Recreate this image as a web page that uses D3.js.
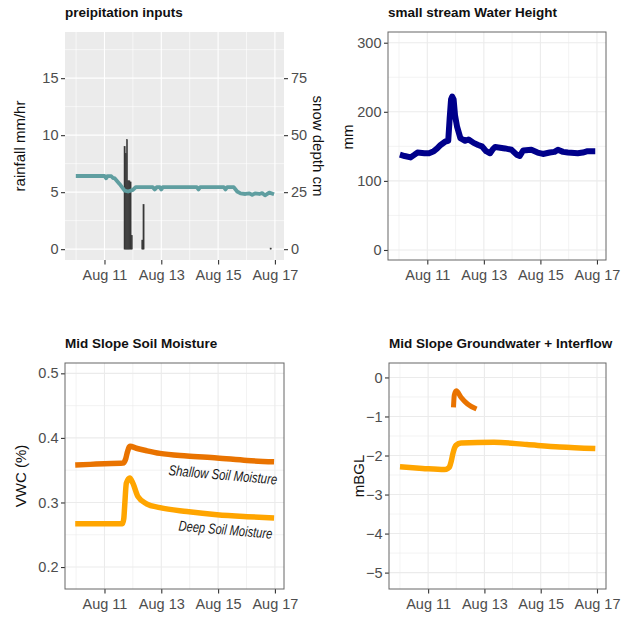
<!DOCTYPE html>
<html>
<head>
<meta charset="utf-8">
<script src="https://cdn.jsdelivr.net/npm/d3@7"></script>
<style>
  body { margin: 0; background: #fff; }
  svg { display: block; font-family: "Liberation Sans", Arial, sans-serif; }
</style>
</head>
<body>
<script>
// all series are [day of August (fractional), value]
var rainfall = [
  [11.708, 9.0], [11.750, 8.4], [11.792, 9.6], [11.833, 6.0], [11.875, 6.0],
  [11.917, 5.9], [11.958, 1.2], [12.333, 0.8], [12.375, 3.9], [16.85, 0.1]
]

var snowDepth = [
  [9.99, 32.1], [11.0, 32.1], [11.06, 31.1], [11.1, 32.0], [11.24, 32.0], [11.3, 31.2],
  [11.35, 31.2], [11.53, 28.6], [11.71, 25.7], [11.83, 25.3], [12.0, 26.0], [12.1, 27.2],
  [12.7, 27.2], [12.77, 26.2], [12.84, 27.2], [12.95, 27.2], [13.0, 26.2], [13.05, 27.2],
  [14.25, 27.2], [14.31, 26.2], [14.37, 27.2], [15.2, 27.2], [15.26, 26.2], [15.32, 27.2],
  [15.55, 27.2], [15.67, 25.3], [15.79, 24.5], [15.96, 24.2], [16.1, 24.5], [16.2, 23.8],
  [16.3, 24.5], [16.45, 24.2], [16.55, 24.6], [16.65, 23.6], [16.8, 24.8], [16.97, 24.1]
]

var streamHeight = [
  [10.03, 138], [10.2, 136], [10.41, 134], [10.55, 138], [10.65, 141], [10.9, 140],
  [11.06, 140], [11.23, 143], [11.35, 147], [11.47, 152], [11.64, 157], [11.74, 158],
  [11.79, 190], [11.84, 218], [11.88, 222], [11.93, 218], [11.98, 195], [12.05, 179],
  [12.17, 162], [12.34, 158], [12.46, 160], [12.64, 155], [12.8, 152], [12.93, 150],
  [13.08, 143], [13.22, 140], [13.32, 146], [13.4, 149], [13.75, 147], [13.98, 145],
  [14.16, 138], [14.27, 136], [14.39, 144], [14.68, 145], [14.9, 141], [15.09, 139],
  [15.33, 141], [15.5, 142], [15.62, 145], [15.8, 142], [15.97, 141], [16.32, 140],
  [16.5, 141], [16.67, 143], [16.94, 143]
]

var shallowSoil = [
  [9.97, 0.358], [10.5, 0.359], [11.0, 0.360], [11.65, 0.361], [11.75, 0.368], [11.8, 0.377],
  [11.9, 0.387], [12.12, 0.384], [12.5, 0.380], [12.95, 0.376], [13.9, 0.372], [14.96, 0.369],
  [16.02, 0.365], [16.97, 0.363]
]

var deepSoil = [
  [9.97, 0.267], [11.0, 0.267], [11.63, 0.267], [11.68, 0.275], [11.71, 0.294], [11.77, 0.330],
  [11.89, 0.338], [12.0, 0.330], [12.18, 0.309], [12.48, 0.298], [12.95, 0.292], [13.9, 0.286],
  [14.96, 0.281], [16.02, 0.278], [16.97, 0.276]
]

var groundwater = [
  [10.0, -2.29], [10.8, -2.33], [11.58, -2.36], [11.7, -2.33], [11.76, -2.29], [11.82, -2.15],
  [11.88, -1.95], [11.99, -1.74], [12.17, -1.68], [13.34, -1.66], [14.51, -1.72], [15.68, -1.78],
  [16.94, -1.82]
]

var interflow = [
  [11.9, -0.77], [11.93, -0.45], [12.0, -0.34], [12.17, -0.51], [12.4, -0.68], [12.72, -0.81]
]

var soilLabels = [
  { text: 'Shallow Soil Moisture', day: 15.17, value: 0.343, len: 109 },
  { text: 'Deep Soil Moisture', day: 15.26, value: 0.258, len: 94 }
]

var dayDomain = [9.61, 17.32]
var dayTicks = [11, 13, 15, 17]
var dayMinor = [10, 12, 14, 16]

function toDate(d) {
  return new Date(Date.UTC(2019, 7, 1) + (d - 1) * 864e5)
}

var svg = d3.select('body').append('svg')
  .attr('width', 624)
  .attr('height', 620)

var fmt = d3.utcFormat('%b %d')

function panel(o) {
  var g = svg.append('g')
  var x = d3.scaleUtc().domain(dayDomain.map(toDate)).range([o.left, o.right])
  var y = d3.scaleLinear().domain(o.yDomain).range([o.bottom, o.top])
  var gridCol = o.grey ? '#fff' : '#EBEBEB'

  g.append('rect')
    .attr('x', o.left).attr('y', o.top)
    .attr('width', o.right - o.left).attr('height', o.bottom - o.top)
    .attr('fill', o.grey ? '#EBEBEB' : '#fff')

  // minor grid
  var step = o.yTicks[1] - o.yTicks[0]
  var yMinor = [o.yTicks[0] - step / 2].concat(o.yTicks.map(function(t) { return t + step / 2 }))
    .filter(function(v) { return v > o.yDomain[0] && v < o.yDomain[1] })
  g.selectAll(null).data(dayMinor).enter().append('line')
    .attr('x1', function(d) { return x(toDate(d)) }).attr('x2', function(d) { return x(toDate(d)) })
    .attr('y1', o.top).attr('y2', o.bottom)
    .attr('stroke', gridCol).attr('stroke-width', 0.6)
  g.selectAll(null).data(yMinor).enter().append('line')
    .attr('y1', function(d) { return y(d) }).attr('y2', function(d) { return y(d) })
    .attr('x1', o.left).attr('x2', o.right)
    .attr('stroke', gridCol).attr('stroke-width', 0.6)
  // major grid
  g.selectAll(null).data(dayTicks).enter().append('line')
    .attr('x1', function(d) { return x(toDate(d)) }).attr('x2', function(d) { return x(toDate(d)) })
    .attr('y1', o.top).attr('y2', o.bottom)
    .attr('stroke', gridCol).attr('stroke-width', 1.1)
  g.selectAll(null).data(o.yTicks).enter().append('line')
    .attr('y1', function(d) { return y(d) }).attr('y2', function(d) { return y(d) })
    .attr('x1', o.left).attr('x2', o.right)
    .attr('stroke', gridCol).attr('stroke-width', 1.1)

  var xAxis = g.append('g')
    .attr('transform', 'translate(0,' + o.bottom + ')')
    .call(d3.axisBottom(x).tickValues(dayTicks.map(toDate)).tickFormat(fmt).tickSize(4.5).tickPadding(5))
  var yAxis = g.append('g')
    .attr('transform', 'translate(' + o.left + ',0)')
    .call(d3.axisLeft(y).tickValues(o.yTicks).tickFormat(o.yFormat || d3.format('')).tickSize(4).tickPadding(2.5))
  styleAxis(xAxis)
  styleAxis(yAxis)

  g.append('text')
    .attr('x', o.left).attr('y', o.top - 15)
    .attr('font-size', '13.5px').attr('font-weight', 'bold').attr('fill', '#111')
    .text(o.title)

  g.append('text')
    .attr('transform', 'translate(' + o.yTitleX + ',' + (o.yTitleY || (o.top + o.bottom) / 2) + ') rotate(-90)')
    .attr('text-anchor', 'middle').attr('dy', '0.35em')
    .attr('font-size', '15px').attr('fill', '#111')
    .text(o.yTitle)

  return { g: g, x: x, y: y, o: o }
}

function styleAxis(ax) {
  ax.select('.domain').remove()
  ax.selectAll('.tick line').attr('stroke', '#333').attr('stroke-width', 1.1)
  ax.selectAll('.tick text').attr('fill', '#4D4D4D').style('font-size', '14.5px')
    .style('font-family', '"Liberation Sans", Arial, sans-serif')
}

function border(p) {
  var o = p.o
  p.g.append('rect')
    .attr('x', o.left).attr('y', o.top)
    .attr('width', o.right - o.left).attr('height', o.bottom - o.top)
    .attr('fill', 'none').attr('stroke', '#666').attr('stroke-width', 1)
}

function drawLine(p, data, color, width, curve) {
  p.g.append('path')
    .datum(data)
    .attr('fill', 'none')
    .attr('stroke', color)
    .attr('stroke-width', width)
    .attr('stroke-linejoin', 'round')
    .attr('d', d3.line()
      .curve(curve || d3.curveLinear)
      .x(function(d) { return p.x(toDate(d[0])) })
      .y(function(d) { return p.y(d[1]) }))
}

// precipitation
var p1 = panel({
  left: 65, right: 284, top: 32, bottom: 260, grey: true,
  yDomain: [-0.95, 19.05], yTicks: [0, 5, 10, 15],
  title: 'preipitation inputs', yTitle: 'rainfall mm/hr', yTitleX: 20
})
var hour = 1 / 24
p1.g.selectAll('.bar').data(rainfall).enter().append('rect')
  .attr('class', 'bar')
  .attr('x', function(d) { return p1.x(toDate(d[0] - hour / 2)) })
  .attr('width', function(d) { return p1.x(toDate(d[0] + hour / 2)) - p1.x(toDate(d[0] - hour / 2)) })
  .attr('y', function(d) { return p1.y(d[1]) })
  .attr('height', function(d) { return p1.y(0) - p1.y(d[1]) })
  .attr('fill', '#383838')
  .attr('stroke', '#383838')
  .attr('stroke-width', 0.5)
drawLine(p1, snowDepth.map(function(d) { return [d[0], d[1] / 5] }), '#5F9EA0', 3.8)

var snowTicks = [0, 25, 50, 75]
var rightAxis = p1.g.append('g')
  .attr('transform', 'translate(' + p1.o.right + ',0)')
  .call(d3.axisRight(p1.y.copy().domain(p1.y.domain().map(function(v) { return v * 5 })))
    .tickValues(snowTicks).tickSize(4).tickPadding(3))
styleAxis(rightAxis)
p1.g.append('text')
  .attr('transform', 'translate(318,146) rotate(90)')
  .attr('text-anchor', 'middle').attr('dy', '0.35em')
  .attr('font-size', '15px').attr('fill', '#111')
  .text('snow depth cm')

// stream
var p2 = panel({
  left: 388, right: 606, top: 32, bottom: 260,
  yDomain: [-14.5, 315.5], yTicks: [0, 100, 200, 300],
  title: 'small stream Water Height', yTitle: 'mm', yTitleX: 348, yTitleY: 137
})
drawLine(p2, streamHeight, '#00008B', 6)
border(p2)

// soil moisture
var p3 = panel({
  left: 65, right: 284, top: 363, bottom: 589,
  yDomain: [0.166, 0.516], yTicks: [0.2, 0.3, 0.4, 0.5], yFormat: d3.format('.1f'),
  title: 'Mid Slope Soil Moisture', yTitle: 'VWC (%)', yTitleX: 21
})
drawLine(p3, shallowSoil, '#E97300', 5.5, d3.curveMonotoneX)
drawLine(p3, deepSoil, '#FFA500', 5.5, d3.curveMonotoneX)
p3.g.selectAll('.lab').data(soilLabels).enter().append('text')
  .attr('class', 'lab')
  .attr('transform', function(d) {
    return 'translate(' + p3.x(toDate(d.day)) + ',' + p3.y(d.value) + ') rotate(5)'
  })
  .attr('text-anchor', 'middle').attr('dy', '0.35em')
  .attr('font-size', '14.5px').attr('font-style', 'italic').attr('fill', '#1a1a1a')
  .attr('textLength', function(d) { return d.len })
  .attr('lengthAdjust', 'spacingAndGlyphs')
  .text(function(d) { return d.text })
border(p3)

// groundwater
var p4 = panel({
  left: 389, right: 606, top: 363, bottom: 589,
  yDomain: [-5.42, 0.37], yTicks: [-5, -4, -3, -2, -1, 0],
  title: 'Mid Slope Groundwater + Interflow', yTitle: 'mBGL', yTitleX: 359
})
drawLine(p4, groundwater, '#FFA500', 5.5, d3.curveMonotoneX)
drawLine(p4, interflow, '#E97300', 5, d3.curveMonotoneX)
border(p4)
</script>
</body>
</html>
